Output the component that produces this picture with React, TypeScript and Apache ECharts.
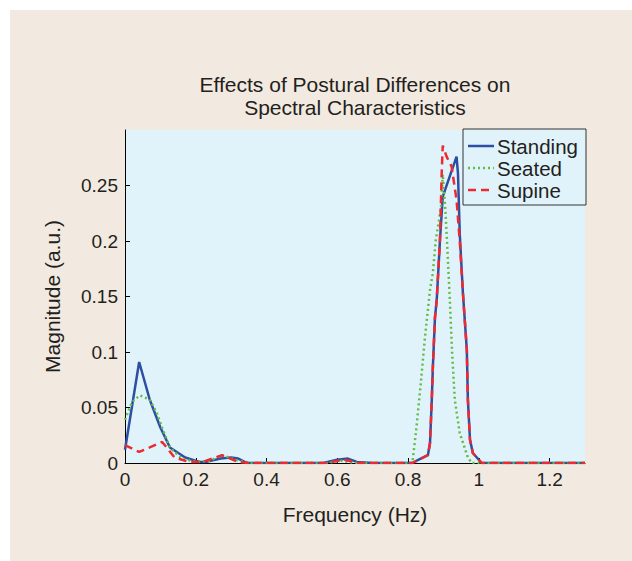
import React, { useEffect, useRef } from "react";
import * as echarts from "echarts";

// Frequency (Hz) and magnitude (a.u.)
const standingFreq = [0, 0.04, 0.07, 0.1, 0.127, 0.17, 0.21, 0.23, 0.27, 0.3, 0.32, 0.345, 0.4, 0.56, 0.6, 0.63, 0.655, 0.7, 0.812, 0.83, 0.856, 0.862, 0.867, 0.87, 0.876, 0.881, 0.89, 0.898, 0.937, 0.941, 0.946, 0.955, 0.966, 0.969, 0.975, 0.983, 1.008, 1.3];
const standingMag = [0.012, 0.091, 0.057, 0.032, 0.014, 0.005, 0.001, 0.001, 0.004, 0.005, 0.004, 0.0, 0.0, 0.0, 0.003, 0.004, 0.001, 0.0, 0.0, 0.003, 0.007, 0.018, 0.057, 0.086, 0.131, 0.147, 0.2, 0.24, 0.276, 0.261, 0.207, 0.153, 0.102, 0.057, 0.021, 0.009, 0.0, 0.0];

const seatedFreq = [0, 0.02, 0.042, 0.07, 0.09, 0.107, 0.127, 0.16, 0.2, 0.24, 0.274, 0.32, 0.36, 0.57, 0.61, 0.65, 0.812, 0.822, 0.836, 0.847, 0.862, 0.87, 0.878, 0.893, 0.898, 0.905, 0.91, 0.918, 0.924, 0.932, 0.946, 0.969, 0.98, 1.3];
const seatedMag = [0.039, 0.055, 0.061, 0.057, 0.045, 0.03, 0.014, 0.004, 0.001, 0.002, 0.007, 0.002, 0.0, 0.0, 0.002, 0.0, 0.0, 0.027, 0.072, 0.111, 0.156, 0.171, 0.2, 0.23, 0.26, 0.23, 0.2, 0.147, 0.102, 0.057, 0.027, 0.005, 0.0, 0.0];

const supineFreq = [0, 0.04, 0.07, 0.105, 0.14, 0.18, 0.22, 0.274, 0.32, 0.35, 0.57, 0.62, 0.66, 0.812, 0.83, 0.856, 0.862, 0.867, 0.87, 0.876, 0.881, 0.89, 0.895, 0.898, 0.909, 0.923, 0.937, 0.946, 0.955, 0.966, 0.969, 0.975, 0.983, 1.008, 1.3];
const supineMag = [0.016, 0.01, 0.014, 0.019, 0.005, 0.001, 0.001, 0.007, 0.001, 0.0, 0.0, 0.003, 0.0, 0.0, 0.003, 0.007, 0.018, 0.057, 0.086, 0.131, 0.147, 0.2, 0.261, 0.286, 0.276, 0.267, 0.237, 0.2, 0.153, 0.102, 0.057, 0.021, 0.009, 0.0, 0.0];

const seriesNames = ["Standing", "Seated", "Supine"];
const seriesColors = ["#2c4ea3", "#62bb46", "#ed2a32"];
const seriesDash: (number[] | null)[] = [null, [2, 3], [8, 5]];
const titleLines = ["Effects of Postural Differences on", "Spectral Characteristics"];

const FONT = "'Liberation Sans', Arial, Helvetica, sans-serif";
const TEXT = "#231f20";
const PLOT_BG = "#e1f3fa";

function pairs(xs: number[], ys: number[]) {
  return xs.map((x, i) => [x, ys[i]]);
}

export default function App() {
  const ref = useRef<HTMLDivElement>(null);

  useEffect(() => {
    if (!ref.current) return;
    const chart = echarts.init(ref.current, undefined, { renderer: "svg" });

    const legendX = 463;
    const legendY = 129;
    const legendW = 123;
    const legendH = 76;
    const rowH = 22;
    const legendEls: any[] = [
      {
        type: "rect",
        shape: { x: legendX, y: legendY, width: legendW, height: legendH },
        style: { fill: PLOT_BG, stroke: "#333", lineWidth: 1 },
        z: 100,
      },
    ];
    seriesNames.forEach((name, i) => {
      const cy = legendY + 17 + i * rowH;
      legendEls.push({
        type: "line",
        shape: { x1: legendX + 5, y1: cy, x2: legendX + 31, y2: cy },
        style: {
          stroke: seriesColors[i],
          lineWidth: 2.5,
          lineDash: seriesDash[i] || undefined,
        },
        z: 101,
      });
      legendEls.push({
        type: "text",
        x: legendX + 34,
        y: cy,
        style: {
          text: name,
          font: `20.5px ${FONT}`,
          fill: TEXT,
          textAlign: "left",
          textVerticalAlign: "middle",
        },
        z: 101,
      });
    });

    chart.setOption({
      animation: false,
      textStyle: { fontFamily: FONT },
      graphic: [
        {
          type: "text",
          x: 355,
          y: 73,
          style: {
            text: titleLines.join("\n"),
            font: `21px ${FONT}`,
            fill: TEXT,
            textAlign: "center",
            textVerticalAlign: "top",
            lineHeight: 23,
          },
        },
        ...legendEls,
      ],
      grid: {
        left: 125,
        top: 130,
        width: 460,
        height: 333,
        show: true,
        backgroundColor: PLOT_BG,
        borderWidth: 0,
      },
      xAxis: {
        type: "value",
        min: 0,
        max: 1.3,
        interval: 0.2,
        name: "Frequency (Hz)",
        nameLocation: "middle",
        nameGap: 41,
        nameTextStyle: { fontSize: 21, color: TEXT, fontFamily: FONT },
        axisLine: { show: true, lineStyle: { color: "#000", width: 1 } },
        axisTick: { show: true, inside: true, length: 5, lineStyle: { color: "#000" } },
        axisLabel: { fontSize: 19, color: TEXT, margin: 7, showMaxLabel: false, fontFamily: FONT },
        splitLine: { show: false },
      },
      yAxis: {
        type: "value",
        min: 0,
        max: 0.3,
        interval: 0.05,
        name: "Magnitude (a.u.)",
        nameLocation: "middle",
        nameGap: 62,
        nameTextStyle: { fontSize: 21, color: TEXT, fontFamily: FONT },
        axisLine: { show: true, lineStyle: { color: "#000", width: 1 } },
        axisTick: { show: true, inside: true, length: 5, lineStyle: { color: "#000" } },
        axisLabel: { fontSize: 19, color: TEXT, margin: 7, showMaxLabel: false, fontFamily: FONT },
        splitLine: { show: false },
      },
      series: [
        {
          name: seriesNames[0],
          type: "line",
          data: pairs(standingFreq, standingMag),
          showSymbol: false,
          symbol: "none",
          lineStyle: { color: seriesColors[0], width: 2.5 },
          itemStyle: { color: seriesColors[0] },
        },
        {
          name: seriesNames[1],
          type: "line",
          data: pairs(seatedFreq, seatedMag),
          showSymbol: false,
          symbol: "none",
          lineStyle: { color: seriesColors[1], width: 2.5, type: seriesDash[1] },
          itemStyle: { color: seriesColors[1] },
        },
        {
          name: seriesNames[2],
          type: "line",
          data: pairs(supineFreq, supineMag),
          showSymbol: false,
          symbol: "none",
          lineStyle: { color: seriesColors[2], width: 2.5, type: seriesDash[2] },
          itemStyle: { color: seriesColors[2] },
        },
      ],
    });
    return () => chart.dispose();
  }, []);

  return (
    <div style={{ position: "absolute", left: 0, top: 0, width: 632, height: 561, background: "#fff" }}>
      <div style={{ position: "absolute", left: 10, top: 10, right: 0, bottom: 0, background: "#f2eae0" }} />
      <div ref={ref} style={{ position: "absolute", left: 0, top: 0, width: 632, height: 561 }} />
    </div>
  );
}
